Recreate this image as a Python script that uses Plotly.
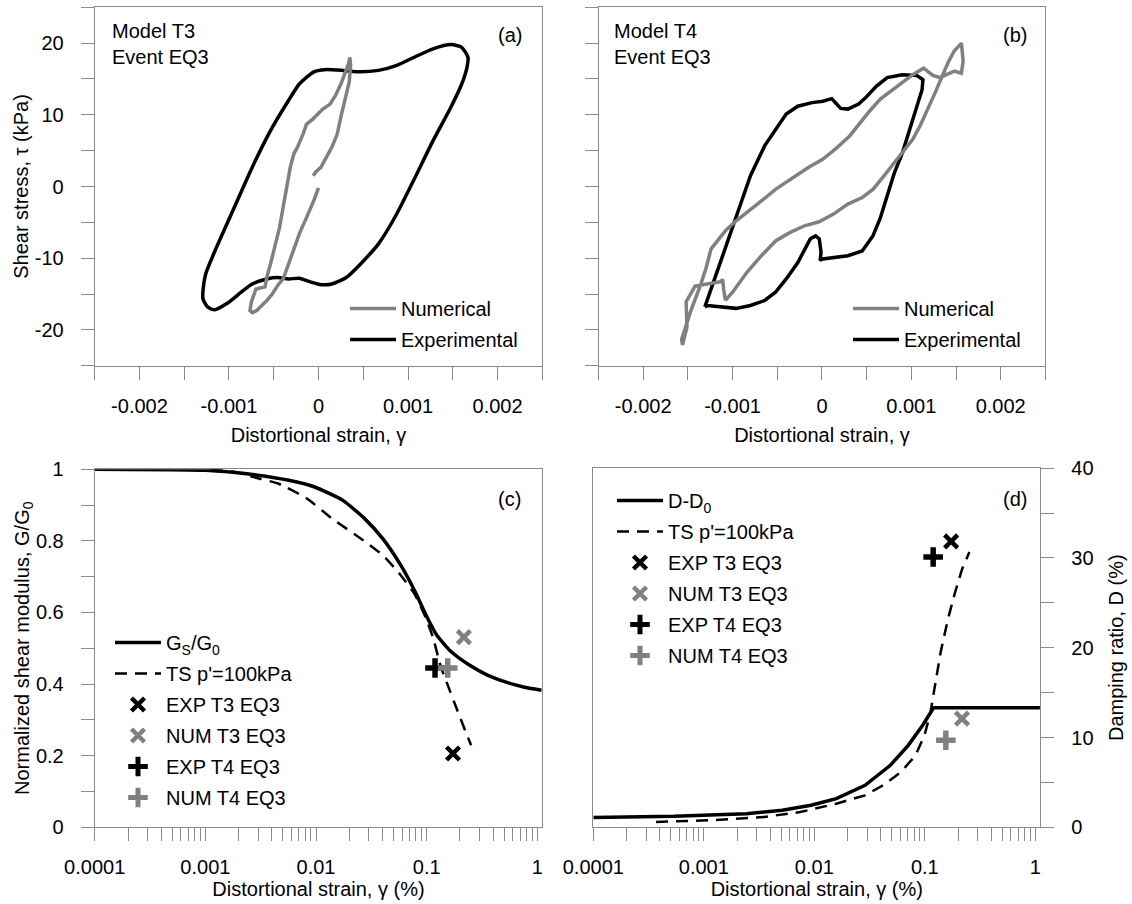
import plotly.graph_objects as go

# ---------------- data ----------------
# (a) Model T3, Event EQ3 : shear stress (kPa) vs distortional strain
a_exp_strain = [-0.00129, -0.00126, -0.00114, -0.00094, -0.00074, -0.000536, -0.000335, -0.000214,
                -0.000052, 0.000069, 0.00027, 0.00047, 0.00067, 0.000875, 0.00108, 0.00128, 0.00148,
                0.0016, 0.00167, 0.00166, 0.0016, 0.00148, 0.00128, 0.00108, 0.000875, 0.00067,
                0.00047, 0.00031, 0.00015, 0.00003, -0.000093, -0.000214, -0.000335, -0.000456,
                -0.000577, -0.00074, -0.00086, -0.00102, -0.00116, -0.00124, -0.00129, -0.00129]
a_exp_stress = [-14.5, -12.2, -8.5, -2.9, 2.7, 7.8, 12.0, 14.3, 16.0, 16.3, 16.2, 16.0, 16.2, 16.9,
                18.1, 19.2, 19.8, 19.4, 18.0, 16.7, 14.3, 11.1, 6.4, 1.3, -3.8, -8.0, -10.8, -12.7,
                -13.6, -13.7, -13.3, -12.8, -12.9, -12.7, -12.9, -13.6, -14.7, -16.3, -17.2, -16.8,
                -15.7, -14.5]
a_num_strain = [0.0, -0.000052, -0.000133, -0.000214, -0.000294, -0.000355, -0.000395, -0.000456,
                -0.000516, -0.000577, -0.000637, -0.00069, -0.000738, -0.000766, -0.00075, -0.000718,
                -0.000698, -0.000597, -0.000577, -0.000536, -0.000476, -0.000435, -0.000395,
                -0.000355, -0.000315, -0.000274, -0.000234, -0.000173, -0.000133, -0.000073,
                -0.000012, 0.000048, 0.000129, 0.00019, 0.00025, 0.0003, 0.000335, 0.00035,
                0.000359, 0.000343, 0.00029, 0.00025, 0.00021, 0.00015, 0.000089, 0.000028,
                -0.000032, -0.00006]
a_num_stress = [-0.2, -1.95, -4.3, -6.6, -9.4, -11.7, -12.9, -13.8, -15.0, -15.9, -16.6, -17.3,
                -17.6, -17.3, -16.1, -15.0, -14.3, -14.0, -12.65, -10.8, -8.0, -5.7, -2.9, -0.1,
                2.7, 4.6, 5.5, 7.3, 8.7, 9.3, 10.1, 10.8, 11.5, 12.7, 14.3, 16.0, 17.1, 18.0, 16.9,
                14.6, 12.0, 9.7, 7.35, 5.5, 4.1, 2.7, 2.0, 1.5]

# (b) Model T4, Event EQ3
b_exp_strain = [-0.00131, -0.00124, -0.00112, -0.00096, -0.0008, -0.00064, -0.00052, -0.0004,
                -0.00027, -0.00011, 0.00001, 0.00011, 0.00015, 0.00021, 0.00029, 0.00041, 0.00049,
                0.00061, 0.00073, 0.0009, 0.00106, 0.00113, 0.00112, 0.00106, 0.00098, 0.0009,
                0.00081, 0.00073, 0.00065, 0.00057, 0.00045, 0.00029, 0.00013, 0.00001, -0.00002,
                -0.00001, -0.00003, -0.00007, -0.00013, -0.00019, -0.00027, -0.0004, -0.00052,
                -0.00064, -0.0008, -0.00096, -0.00112, -0.00128, -0.00131]
b_exp_stress = [-16.8, -14.3, -9.65, -4.1, 1.5, 5.7, 8.0, 10.1, 11.2, 11.7, 11.9, 12.25, 11.7,
                10.9, 10.8, 11.5, 12.4, 14.0, 15.2, 15.6, 15.5, 14.9, 13.5, 11.2, 8.0, 4.7, 1.9,
                -1.3, -4.5, -6.9, -9.0, -9.65, -9.9, -10.1, -10.3, -9.2, -7.3, -6.9, -7.3, -8.7,
                -10.6, -12.9, -14.75, -15.9, -16.6, -17.0, -16.8, -16.6, -16.8]
b_num_strain = [-0.00108, -0.001, -0.000839, -0.000677, -0.000516, -0.000355, -0.000194,
                -0.000032, 0.000129, 0.00029, 0.000452, 0.000573, 0.000694, 0.000815, 0.000915,
                0.001016, 0.001097, 0.001177, 0.001258, 0.001339, 0.001419, 0.00148, 0.00156,
                0.00158, 0.00156, 0.00148, 0.00138, 0.00132, 0.00124, 0.001137, 0.001016,
                0.000895, 0.000774, 0.000653, 0.000532, 0.000411, 0.00031, 0.000169, 0.000008,
                -0.000153, -0.000355, -0.000516, -0.000677, -0.000839, -0.00096, -0.00108,
                -0.00124, -0.0013, -0.00136, -0.00146, -0.00154, -0.00157, -0.00156, -0.00151,
                -0.00152, -0.00142, -0.00114, -0.00111, -0.0011, -0.00108]
b_num_stress = [-15.9, -14.75, -11.97, -9.65, -7.56, -6.4, -5.48, -4.92, -3.85, -2.46, -1.53,
                -0.37, 1.48, 3.34, 4.97, 6.59, 8.45, 10.5, 12.85, 15.2, 17.5, 18.9, 20.0, 17.5,
                15.8, 16.1, 15.6, 15.2, 15.5, 16.5, 15.6, 14.5, 13.3, 12.2, 10.5, 8.7, 7.05, 5.43,
                3.8, 2.65, 1.0, -0.37, -2.0, -3.6, -4.78, -6.17, -8.7, -11.5, -13.8, -17.1, -19.9,
                -21.3, -22.1, -19.6, -16.1, -13.9, -13.3, -13.0, -14.3, -15.9]

# (c) normalized shear modulus G/G0 vs strain (%)
c_gs_strain = [0.0001, 0.00101, 0.00268, 0.00568, 0.0096, 0.0175, 0.0275, 0.0401, 0.0583,
               0.0789, 0.0988, 0.1236, 0.167, 0.243, 0.354, 0.515, 0.75, 1.09]
c_gs_ratio = [1.0, 0.997, 0.985, 0.969, 0.951, 0.913, 0.862, 0.806, 0.732, 0.657, 0.592, 0.536,
              0.49, 0.453, 0.425, 0.406, 0.392, 0.383]
c_ts_strain = [0.000746, 0.000935, 0.00126, 0.00184, 0.00268, 0.00454, 0.00828, 0.01397, 0.0255,
               0.0401, 0.0583, 0.0789, 0.0988, 0.1148, 0.133, 0.155, 0.187, 0.2255, 0.2523]
c_ts_ratio = [1.011, 1.004, 1.0, 0.9925, 0.9785, 0.96, 0.918, 0.862, 0.806, 0.76, 0.704, 0.648,
              0.583, 0.527, 0.4525, 0.397, 0.331, 0.266, 0.229]

# (d) damping ratio D (%) vs strain (%)
d_dd0_strain = [0.0001, 0.000538, 0.00242, 0.00512, 0.00933, 0.0158, 0.0288, 0.0487, 0.0708,
                0.0957, 0.12, 1.1]
d_dd0_damping = [1.1, 1.22, 1.52, 1.89, 2.45, 3.19, 4.68, 6.9, 9.13, 11.36, 13.3, 13.3]
d_ts_strain = [0.00037, 0.00114, 0.00352, 0.00746, 0.0158, 0.0288, 0.0419, 0.061, 0.0824, 0.0994,
               0.1127, 0.124, 0.139, 0.162, 0.188, 0.218, 0.253]
d_ts_damping = [0.59, 0.78, 1.15, 1.7, 2.63, 3.56, 4.68, 6.16, 8.02, 10.25, 12.84, 15.8, 19.5,
                23.2, 26.2, 28.8, 30.65]

# centrifuge test points (strain %, G/G0, D %)
point_names = ["EXP T3 EQ3", "NUM T3 EQ3", "EXP T4 EQ3", "NUM T4 EQ3"]
point_strain = [0.173, 0.217, 0.119, 0.155]
point_ratio = [0.206, 0.531, 0.445, 0.445]
point_damping = [31.85, 12.1, 30.1, 9.7]

lin_ticks = [-0.002, -0.001, 0, 0.001, 0.002]
lin_ticktext = ["-0.002", "-0.001", "0", "0.001", "0.002"]
stress_ticks = [-20, -10, 0, 10, 20]
stress_ticktext = ["-20", "-10", "0", "10", "20"]
ratio_ticks = [0, 0.2, 0.4, 0.6, 0.8, 1]
ratio_ticktext = ["0", "0.2", "0.4", "0.6", "0.8", "1"]
damping_ticks = [0, 10, 20, 30, 40]
damping_ticktext = ["0", "10", "20", "30", "40"]
log_ticks = [0.0001, 0.001, 0.01, 0.1, 1]
log_ticktext = ["0.0001", "0.001", "0.01", "0.1", "1"]
log_minor = [m * d for d in [0.0001, 0.001, 0.01, 0.1] for m in range(2, 10)]

# ---------------- styling ----------------
W, H = 1132, 904
FONT = "Liberation Sans, Arial, sans-serif"
FS = 20
AX = "#8a8a8a"
GREY = "#808080"
BLACK = "#000000"


def px_x(p):
    return p / W


def px_y(p):
    return 1 - p / H


dom_a = dict(x=[px_x(94.7), px_x(542.3)], y=[px_y(365.7), px_y(7.3)])
dom_b = dict(x=[px_x(598.5), px_x(1045.4)], y=[px_y(365.7), px_y(7.3)])
dom_c = dict(x=[px_x(94.7), px_x(542.3)], y=[px_y(827.3), px_y(469.2)])
dom_d = dict(x=[px_x(593.3), px_x(1040.3)], y=[px_y(827.3), px_y(468.1)])

fig = go.Figure()

# (a)
fig.add_trace(go.Scatter(x=a_exp_strain, y=a_exp_stress, mode="lines", name="Experimental",
                         line=dict(color=BLACK, width=3.5, shape="spline", smoothing=0.6),
                         xaxis="x", yaxis="y", legend="legend", legendgroup="a2", legendrank=2))
fig.add_trace(go.Scatter(x=a_num_strain, y=a_num_stress, mode="lines", name="Numerical",
                         line=dict(color=GREY, width=3.5),
                         xaxis="x", yaxis="y", legend="legend", legendgroup="a1", legendrank=1))
# (b)
fig.add_trace(go.Scatter(x=b_exp_strain, y=b_exp_stress, mode="lines", name="Experimental",
                         line=dict(color=BLACK, width=3.5),
                         xaxis="x2", yaxis="y2", legend="legend2", legendgroup="b2", legendrank=2))
fig.add_trace(go.Scatter(x=b_num_strain, y=b_num_stress, mode="lines", name="Numerical",
                         line=dict(color=GREY, width=3.5),
                         xaxis="x2", yaxis="y2", legend="legend2", legendgroup="b1", legendrank=1))

# (c) and (d)
marker_styles = [
    dict(symbol="x-thin", size=13, color=BLACK, line=dict(color=BLACK, width=4.5)),
    dict(symbol="x-thin", size=13, color=GREY, line=dict(color=GREY, width=4.5)),
    dict(symbol="cross-thin", size=14, color=BLACK, line=dict(color=BLACK, width=5.5)),
    dict(symbol="cross-thin", size=14, color=GREY, line=dict(color=GREY, width=5.5)),
]

fig.add_trace(go.Scatter(x=c_gs_strain, y=c_gs_ratio, mode="lines", name="G<sub>S</sub>/G<sub>0</sub>",
                         line=dict(color=BLACK, width=3.5, shape="spline", smoothing=0.5),
                         xaxis="x3", yaxis="y3", legend="legend3", legendgroup="c1", legendrank=1))
fig.add_trace(go.Scatter(x=c_ts_strain, y=c_ts_ratio, mode="lines", name="TS p'=100kPa",
                         line=dict(color=BLACK, width=2.5, dash="12px,8px", shape="spline", smoothing=0.5),
                         xaxis="x3", yaxis="y3", legend="legend3", legendgroup="c2", legendrank=2))
for i in range(4):
    fig.add_trace(go.Scatter(x=[point_strain[i]], y=[point_ratio[i]], mode="markers", name=point_names[i],
                             marker=marker_styles[i], xaxis="x3", yaxis="y3", legend="legend3",
                             legendgroup="c%d" % (i + 3), legendrank=i + 3))

fig.add_trace(go.Scatter(x=d_dd0_strain, y=d_dd0_damping, mode="lines", name="D-D<sub>0</sub>",
                         line=dict(color=BLACK, width=3.5),
                         xaxis="x4", yaxis="y4", legend="legend4", legendgroup="d1", legendrank=1))
fig.add_trace(go.Scatter(x=d_ts_strain, y=d_ts_damping, mode="lines", name="TS p'=100kPa",
                         line=dict(color=BLACK, width=2.5, dash="12px,8px"),
                         xaxis="x4", yaxis="y4", legend="legend4", legendgroup="d2", legendrank=2))
for i in range(4):
    fig.add_trace(go.Scatter(x=[point_strain[i]], y=[point_damping[i]], mode="markers", name=point_names[i],
                             marker=marker_styles[i], xaxis="x4", yaxis="y4", legend="legend4",
                             legendgroup="d%d" % (i + 3), legendrank=i + 3))

tfont = dict(family=FONT, size=FS, color="black")
common = dict(showline=True, linecolor=AX, linewidth=1, mirror=True, showgrid=False, zeroline=False,
              ticks="outside", ticklen=13, tickcolor=AX, tickwidth=1, tickfont=tfont, automargin=False)


def minor_lin(t0, dt):
    return dict(tickmode="linear", tick0=t0, dtick=dt, ticks="outside", ticklen=13,
                tickcolor=AX, tickwidth=1, showgrid=False)


lin_x = dict(common, range=[-0.0025, 0.0025], tickmode="array", tickvals=lin_ticks, ticktext=lin_ticktext,
             minor=minor_lin(-0.0025, 0.0005), ticklabelstandoff=9,
             title=dict(text="Distortional strain, γ", font=tfont, standoff=12))
stress_y = dict(common, range=[-25, 25], tickmode="array", tickvals=stress_ticks, ticktext=stress_ticktext,
                minor=minor_lin(-25, 5), ticklabelstandoff=13)
log_x = dict(common, type="log", range=[-4, 0.045], tickmode="array", tickvals=log_ticks,
             ticktext=log_ticktext,
             minor=dict(tickmode="array", tickvals=log_minor, ticks="outside", ticklen=13,
                        tickcolor=AX, tickwidth=1, showgrid=False),
             ticklabelstandoff=9,
             title=dict(text="Distortional strain, γ (%)", font=tfont, standoff=4))

legend_common = dict(xanchor="left", yanchor="top", bgcolor="rgba(0,0,0,0)", borderwidth=0,
                     font=tfont, traceorder="grouped", tracegroupgap=2, itemwidth=46)

fig.update_layout(
    template="none",
    width=W, height=H, margin=dict(l=0, r=0, t=0, b=0, autoexpand=False),
    paper_bgcolor="white", plot_bgcolor="white",
    font=tfont,
    xaxis=dict(lin_x, domain=dom_a["x"], anchor="y"),
    yaxis=dict(stress_y, domain=dom_a["y"], anchor="x",
               title=dict(text="Shear stress, τ (kPa)", font=tfont, standoff=0)),
    xaxis2=dict(lin_x, domain=dom_b["x"], anchor="y2"),
    yaxis2=dict(stress_y, domain=dom_b["y"], anchor="x2", showticklabels=False),
    xaxis3=dict(log_x, domain=dom_c["x"], anchor="y3"),
    yaxis3=dict(common, domain=dom_c["y"], anchor="x3", range=[0, 1], tickmode="array",
                tickvals=ratio_ticks, ticktext=ratio_ticktext, minor=minor_lin(0, 0.1),
                ticklabelstandoff=13,
                title=dict(text="Normalized shear modulus, G/G<sub>0</sub>", font=tfont, standoff=0)),
    xaxis4=dict(log_x, domain=dom_d["x"], anchor="y4"),
    yaxis4=dict(common, domain=dom_d["y"], anchor="x4", side="right", range=[0, 40], tickmode="array",
                tickvals=damping_ticks, ticktext=damping_ticktext, minor=minor_lin(0, 5),
                ticklabelstandoff=13,
                title=dict(text="Damping ratio, D (%)", font=tfont, standoff=16)),
    legend=dict(legend_common, x=px_x(345), y=px_y(289)),
    legend2=dict(legend_common, x=px_x(848), y=px_y(289)),
    legend3=dict(legend_common, x=px_x(110), y=px_y(623)),
    legend4=dict(legend_common, x=px_x(612), y=px_y(481)),
    annotations=[
        dict(text="Model T3<br>Event EQ3", x=px_x(110), y=px_y(18), xref="paper", yref="paper",
             xanchor="left", yanchor="top", align="left", showarrow=False, font=tfont),
        dict(text="Model T4<br>Event EQ3", x=px_x(612), y=px_y(18), xref="paper", yref="paper",
             xanchor="left", yanchor="top", align="left", showarrow=False, font=tfont),
        dict(text="(a)", x=px_x(524), y=px_y(35), xref="paper", yref="paper", xanchor="right",
             yanchor="middle", showarrow=False, font=tfont),
        dict(text="(b)", x=px_x(1029), y=px_y(35), xref="paper", yref="paper", xanchor="right",
             yanchor="middle", showarrow=False, font=tfont),
        dict(text="(c)", x=px_x(523), y=px_y(499), xref="paper", yref="paper", xanchor="right",
             yanchor="middle", showarrow=False, font=tfont),
        dict(text="(d)", x=px_x(1029), y=px_y(499), xref="paper", yref="paper", xanchor="right",
             yanchor="middle", showarrow=False, font=tfont),
    ],
)

fig.write_html("out.html")
